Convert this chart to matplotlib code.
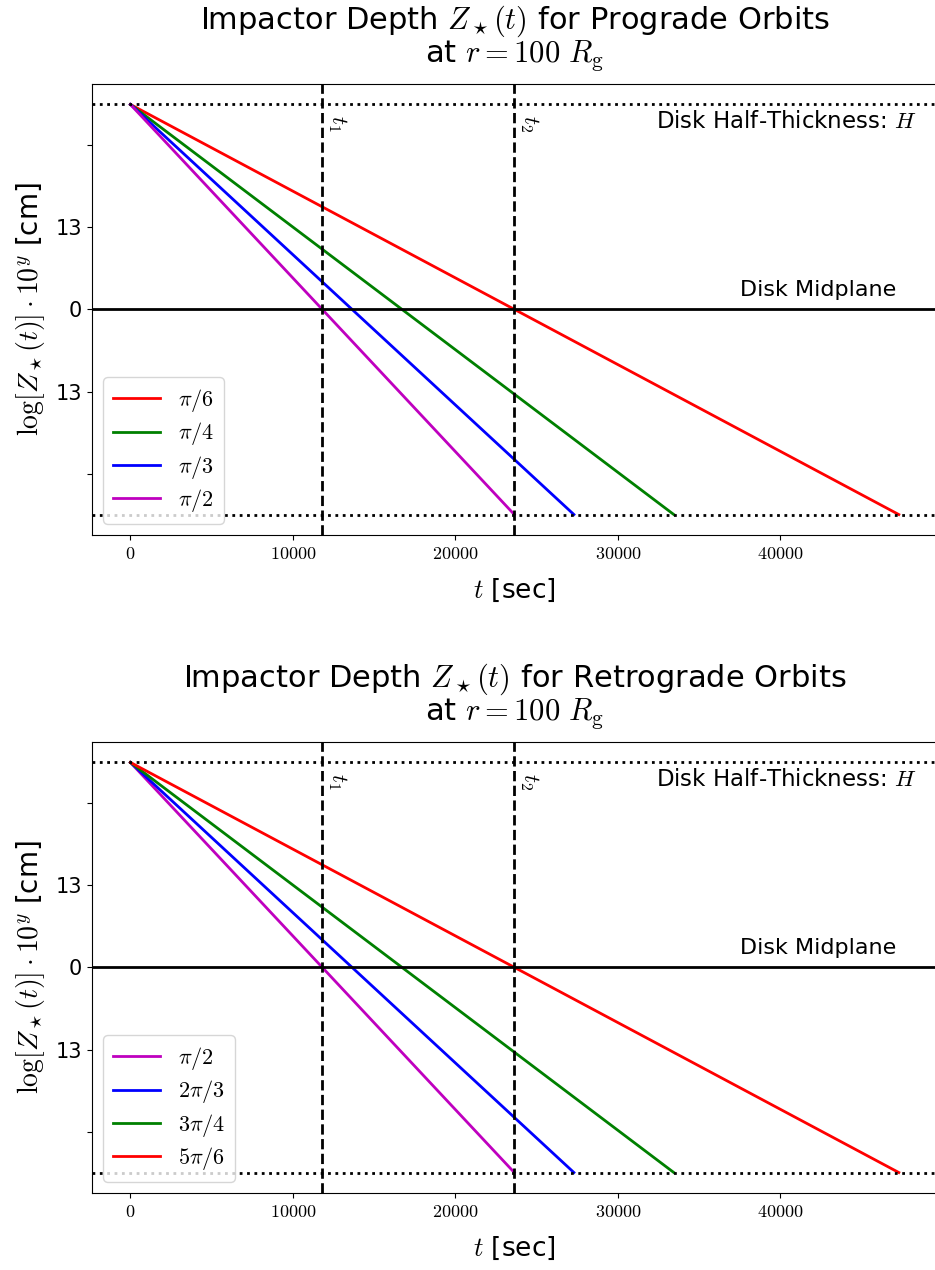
import numpy as np
import matplotlib
matplotlib.use('Agg')
from matplotlib import pyplot as plt
from matplotlib.ticker import FuncFormatter

plt.rcParams['font.family'] = ['DejaVu Sans']
plt.rcParams['mathtext.fontset'] = 'cm'

# crossing / exit times [sec]
t1 = 11815
t2 = 23630

pro_labels = [r'$\pi/6$', r'$\pi/4$', r'$\pi/3$', r'$\pi/2$']
pro_colors = ['r', 'g', 'b', 'm']
pro_tend = [47300, 33450, 27300, 23630]

retro_labels = [r'$\pi/2$', r'$2\pi/3$', r'$3\pi/4$', r'$5\pi/6$']
retro_colors = ['m', 'b', 'g', 'r']
retro_tend = [23630, 27300, 33450, 47300]

# depth in units of H: enters at +H, exits at -H
z_start = 1.0
z_end = -1.0

yticks = [-0.8, -0.4, 0.0, 0.4, 0.8]
yticklabels = ['', '13', '0', '13', '']

fig = plt.figure(figsize=(9.35, 12.7), dpi=100)
ax1 = fig.add_axes([0.0984, 0.5787, 0.904, 0.3552])
ax2 = fig.add_axes([0.0984, 0.0606, 0.904, 0.3552])


def panel(ax, labels, colors, tends, kind):
    for lab, c, te in zip(labels, colors, tends):
        ax.plot([0, te], [z_start, z_end], color=c, lw=2, label=lab)
    ax.axhline(z_start, color='k', ls=':', lw=2)
    ax.axhline(z_end, color='k', ls=':', lw=2)
    ax.axhline(0, color='k', lw=2)
    ax.axvline(t1, color='k', ls='--', lw=2)
    ax.axvline(t2, color='k', ls='--', lw=2)
    ax.text(t1 + 200, 0.95, r'$t_1$', rotation=-90, va='top', ha='left', fontsize=16)
    ax.text(t2 + 200, 0.95, r'$t_2$', rotation=-90, va='top', ha='left', fontsize=16)
    ax.text(0.976, 0.942, r'Disk Half-Thickness: $H$', transform=ax.transAxes,
            ha='right', va='top', fontsize=16.5)
    ax.text(0.951, 0.52, 'Disk Midplane', transform=ax.transAxes,
            ha='right', va='bottom', fontsize=16)
    ax.set_yticks(yticks)
    ax.set_yticklabels(yticklabels, fontsize=15)
    ax.xaxis.set_major_formatter(FuncFormatter(lambda v, p: r'$%d$' % v))
    ax.tick_params(axis='x', labelsize=13)
    ax.set_xlabel(r'$t$ [sec]', fontsize=19, labelpad=10)
    ax.set_ylabel(r'$\log[Z_\star(t)]\cdot10^y$ [cm]', fontsize=20, labelpad=6)
    ax.set_title('Impactor Depth $Z_\\star(t)$ for %s Orbits\nat $r=100\\ R_\\mathrm{g}$' % kind,
                 fontsize=22, pad=16, linespacing=0.95)
    ax.legend(loc='lower left', fontsize=16, handlelength=2.1, borderpad=0.45,
              labelspacing=0.28)


panel(ax1, pro_labels, pro_colors, pro_tend, 'Prograde')
panel(ax2, retro_labels, retro_colors, retro_tend, 'Retrograde')

plt.savefig('out.png', dpi=100)
